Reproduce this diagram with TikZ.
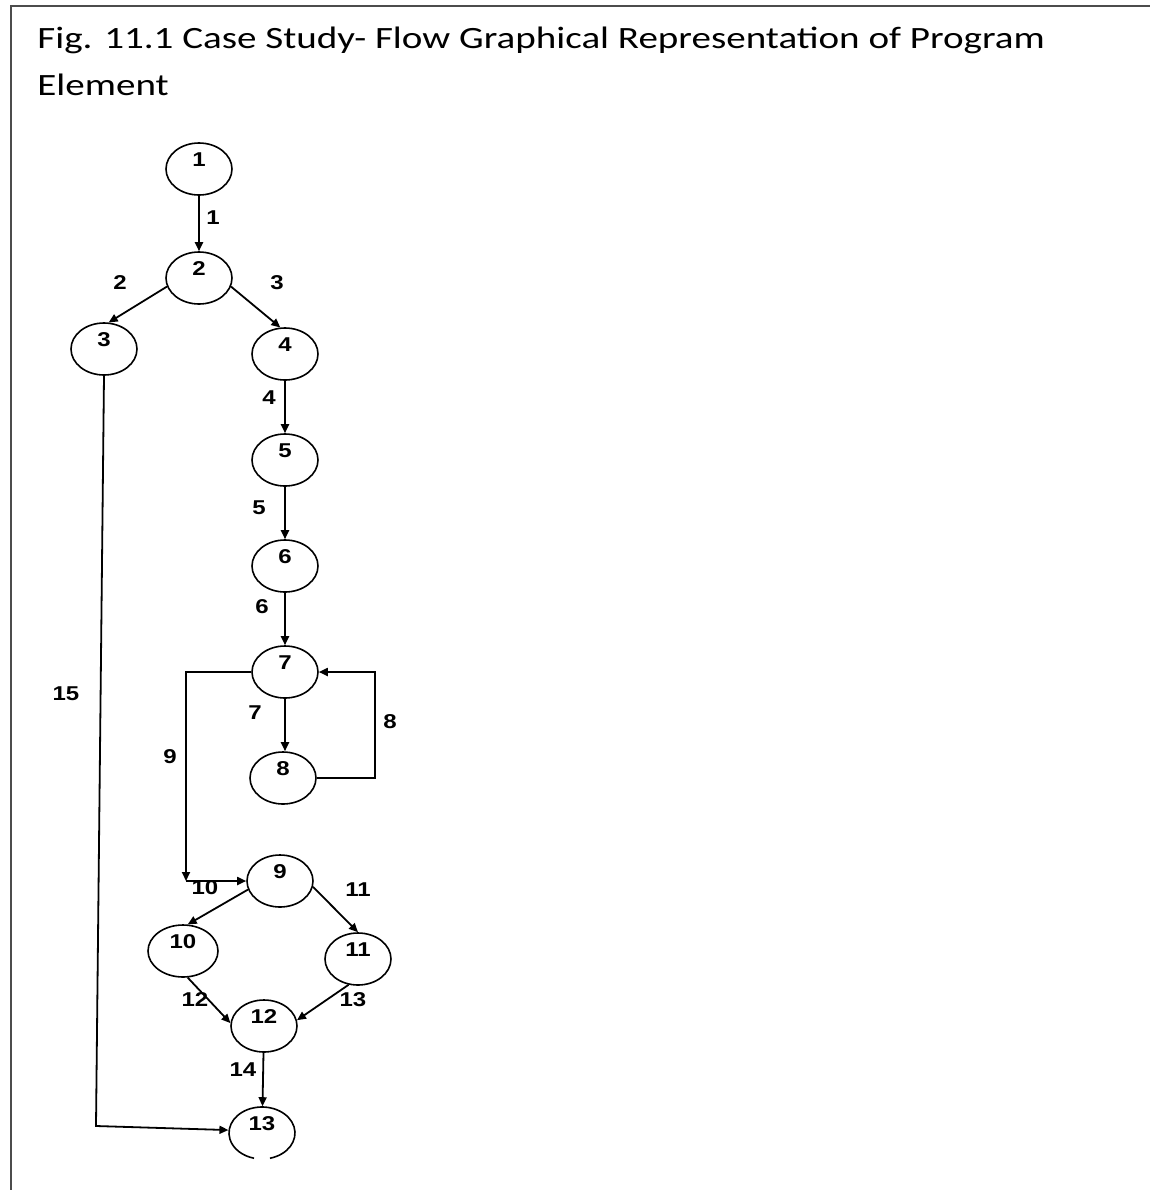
\documentclass[tikz,border=0pt]{standalone}
\usepackage{fontspec}
\usetikzlibrary{shapes.geometric,arrows.meta}
\newfontfamily\titlefont[FakeStretch=1.26]{Carlito}
\newfontfamily\numfont[FakeStretch=1.2]{Liberation Sans}

\begin{document}
\begin{tikzpicture}[x=0.5pt, y=-0.5pt,
  fnode/.style={ellipse, draw, line width=0.8pt, minimum width=33pt, minimum height=26pt,
    inner sep=0pt, font=\numfont\bfseries\fontsize{10}{10}\selectfont,
    text height=7pt, text depth=9.4pt},
  elabel/.style={font=\numfont\bfseries\fontsize{10}{10}\selectfont, inner sep=0pt},
  arr/.style={line width=0.9pt, -{Triangle[length=4.5pt, width=4pt]}},
  captext/.style={anchor=base west, inner sep=0pt, font=\titlefont\fontsize{15.5}{23.5}\selectfont}]
\useasboundingbox (0,0) rectangle (1150,1190);
\draw[line width=1pt, black!70] (1150,6) -- (11,6) -- (11,1190);

% Draw caption.
\node[captext] (cap1) at (37,48) {Fig. 11.1 Case Study- Flow Graphical Representation of Program};
\node[captext] (cap2) at (37,95) {Element};

% Draw nodes.
\node[fnode] (n1) at (199,169) {1};
\node[fnode] (n2) at (199,278) {2};
\node[fnode] (n3) at (104,349) {3};
\node[fnode] (n4) at (285,354) {4};
\node[fnode] (n5) at (285,460) {5};
\node[fnode] (n6) at (285,566) {6};
\node[fnode] (n7) at (285,672) {7};
\node[fnode] (n8) at (283,778) {8};
\node[fnode] (n9) at (280,881) {9};
\node[fnode, minimum width=35pt] (n10) at (183,951) {10};
\node[fnode] (n11) at (358,959) {11};
\node[fnode] (n12) at (264,1026) {12};
\node[fnode, draw=none] (n13) at (262,1133) {13};
\draw[line width=0.8pt] ([shift={(-76:16.5pt and 13pt)}]n13.center)
  arc[start angle=-76, end angle=256, x radius=16.5pt, y radius=13pt];

% Draw edges.
\draw[arr] (n1) -- (n2);
\draw[arr] (n2.195) -- (n3.80);
\draw[arr] (n2.-15) -- (n4.100);
\draw[arr] (n4) -- (n5);
\draw[arr] (n5) -- (n6);
\draw[arr] (n6) -- (n7);
\draw[arr] (n7.south) -- (n7.south |- n8.north);
\coordinate (c8) at (375,725);
\draw[arr] (n8.east) -| (c8) |- (n7.east);
\coordinate (j9) at (186,881);
\draw[arr] (n7.west) -| (j9);
\draw[arr] (j9) -- (n9.west);
\draw[arr] (n9.195) -- (n10.80);
\draw[arr] (n9.-10) -- (n11.north);
\draw[arr] (n10.-80) -- (n12.175);
\draw[arr] (n11.-110) -- (n12.10);
\draw[arr] (n12) -- (n13);
\coordinate (c15) at (96,1126);
\draw[arr] (n3.south) -- (c15) -- (n13.175);

% Draw edge labels.
\node[elabel] (l1) at (213,218) {1};
\node[elabel] (l2) at (120,283) {2};
\node[elabel] (l3) at (277,283) {3};
\node[elabel] (l4) at (269,398) {4};
\node[elabel] (l5) at (259,508) {5};
\node[elabel] (l6) at (262,607) {6};
\node[elabel] (l7) at (255,713) {7};
\node[elabel] (l8) at (390,722) {8};
\node[elabel] (l9) at (170,757) {9};
\node[elabel] (l10) at (205,888) {10};
\node[elabel] (l11) at (358,890) {11};
\node[elabel] (l12) at (195,1000) {12};
\node[elabel] (l13) at (353,1000) {13};
\node[elabel] (l14) at (243,1070) {14};
\node[elabel] (l15) at (66,694) {15};

\end{tikzpicture}
\end{document}
